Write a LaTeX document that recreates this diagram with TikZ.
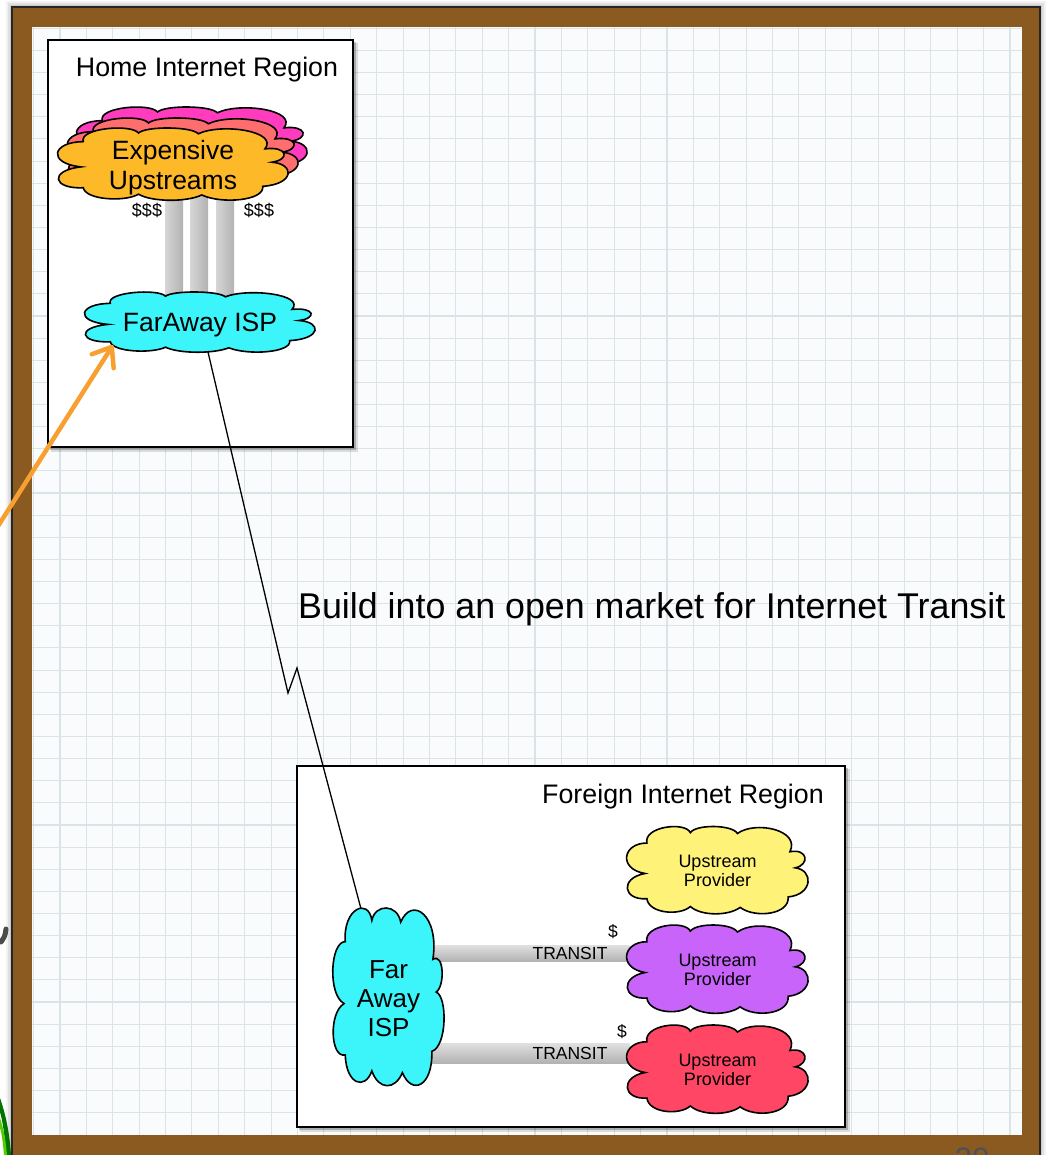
\documentclass[tikz,border=0pt]{standalone}
\usepackage{fontspec}
\setmainfont{Liberation Sans}
\usetikzlibrary{arrows.meta,calc}

\definecolor{framebrown}{RGB}{139,90,32}
\definecolor{paper}{RGB}{249,251,252}
\definecolor{gridblue}{RGB}{218,227,230}
\definecolor{cmagenta}{RGB}{255,60,190}
\definecolor{csalmon}{RGB}{255,110,110}
\definecolor{corange}{RGB}{253,185,40}
\definecolor{ccyan}{RGB}{60,245,250}
\definecolor{cyellow}{RGB}{255,242,120}
\definecolor{cpurple}{RGB}{200,100,250}
\definecolor{cred}{RGB}{255,70,100}
\definecolor{arroworange}{RGB}{247,160,48}
\definecolor{pagenum}{RGB}{75,80,90}

\tikzset{
  % rounded, many-puffed cloud outline in a unit box (y up)
  pics/omnicloud/.style={code={
    \path[pic actions]
      (-0.80,-0.08)
      .. controls (-1.10,0.02) and (-1.05,0.62) .. (-0.78,0.62)
      .. controls (-0.82,1.00) and (-0.36,1.12) .. (-0.30,0.86)
      .. controls (-0.24,1.05) and (0.16,1.05) .. (0.22,0.84)
      .. controls (0.42,1.14) and (0.92,0.92) .. (0.80,0.42)
      .. controls (1.00,0.50) and (1.02,0.12) .. (0.86,0.05)
      .. controls (1.06,0.00) and (1.06,-0.56) .. (0.78,-0.62)
      .. controls (0.80,-1.02) and (0.42,-1.12) .. (0.25,-0.86)
      .. controls (0.12,-1.06) and (-0.18,-1.06) .. (-0.30,-0.84)
      .. controls (-0.42,-1.06) and (-0.76,-1.00) .. (-0.78,-0.66)
      .. controls (-1.05,-0.70) and (-1.08,-0.18) .. (-0.80,-0.08)
      -- cycle;
  }},
  cloudline/.style={draw=black, line width=1.6pt},
  bigtext/.style={font=\fontsize{26.5}{30}\selectfont, align=center, inner sep=0pt},
  smalltext/.style={font=\fontsize{18}{19}\selectfont, align=center, inner sep=0pt},
  titletext/.style={font=\fontsize{26.8}{30}\selectfont, inner sep=0pt},
  regionbox/.style={draw=black, line width=1.2pt, fill=white},
  gridline/.style={draw=gridblue, line width=1.1pt},
  vtube/.style={left color=black!16, middle color=black!4, right color=black!30},
  htube/.style={top color=black!12, middle color=black!4, bottom color=black!30},
  zigline/.style={draw=black, line width=1.3pt, line join=miter},
  pointer/.style={draw=arroworange, line width=4.5pt,
    -{Straight Barb[length=17pt,width=26pt,round]}},
}

\begin{document}
\begin{tikzpicture}[x=1pt,y=-1pt]
\useasboundingbox (0,0) rectangle (1046,1155);
\clip (0,0) rectangle (1046,1155);
\fill[white] (0,0) rectangle (1046,1155);

% soft shadow round the wooden frame
\foreach \d/\o in {6/0.05,4/0.07,2/0.10}
  \fill[black,opacity=\o] (12-\d,7-\d) rectangle (1040+\d,1180);

% wooden frame
\fill[framebrown, draw=black!85, line width=1.6pt] (12,7) rectangle (1040,1180);

% squared paper
\fill[paper] (32,27) rectangle (1022,1135);
\foreach \k in {0,...,37}
  \draw[gridline] ({33.6+26.39*\k},27) -- ({33.6+26.39*\k},1135);
\foreach \k in {0,...,49}
  \draw[gridline] (32,{28.3+22.13*\k}) -- (1022,{28.3+22.13*\k});

% leaf and glyph bits outside the frame
\fill[green!45!black] (0,1098) .. controls (7,1118) and (10,1138) .. (11,1155)
  -- (6,1155) .. controls (5,1138) and (3,1122) .. (0,1112) -- cycle;
\fill[green!60!yellow!80!black] (0,1118) .. controls (4,1130) and (6,1142) .. (7,1155)
  -- (4,1155) .. controls (3,1144) and (2,1134) .. (0,1128) -- cycle;
\draw[black!70, line width=5pt, line cap=round] (6,929) .. controls (5,936) .. (1,942);

% page number, cut by the lower edge
\node[font=\fontsize{31}{31}\selectfont, text=pagenum, inner sep=0pt, anchor=north]
  (pg) at (972,1148) {30};

% region boxes with shadows
\fill[black,opacity=0.12] (51,43) rectangle (358,452);
\fill[black,opacity=0.22] (50,42) rectangle (356,450);
\path[regionbox] (48,40) rectangle (353,447);
\node[titletext] (hometitle) at (207,70) {Home Internet Region};

\fill[black,opacity=0.12] (300,769) rectangle (850,1132);
\fill[black,opacity=0.22] (299,768) rectangle (848,1130);
\path[regionbox] (297,766) rectangle (845,1127);
\node[titletext] (foreigntitle) at (683,797) {Foreign Internet Region};

% cloud labels (placed first so the tubes can refer to them)
\path (173,164) node[bigtext] (exp) {\phantom{X}};
\path (200,322) node[bigtext] (isp1) {\phantom{X}};
\path (388.5,996.5) node[bigtext] (isp2) {\phantom{X}};
\path (717.5,870) node[smalltext] (up1) {\phantom{X}};
\path (717.5,969) node[smalltext] (up2) {\phantom{X}};
\path (717.5,1069) node[smalltext] (up3) {\phantom{X}};

% paid links to the expensive upstreams
\shade[vtube] ($(exp.center)+(-8,26)$) rectangle ($(isp1.center)+(-17,-24)$);
\shade[vtube] ($(exp.center)+(17,26)$) rectangle ($(isp1.center)+(8,-24)$);
\shade[vtube] ($(exp.center)+(43,26)$) rectangle ($(isp1.center)+(34,-24)$);

% home region clouds
\pic[cloudline, fill=cmagenta, xscale=115, yscale=-36] at (192,143) {omnicloud};
\pic[cloudline, fill=csalmon, xscale=115, yscale=-36] at (183,154) {omnicloud};
\pic[cloudline, fill=corange, xscale=115, yscale=-36] at (173,164) {omnicloud};
\pic[cloudline, fill=ccyan, xscale=115, yscale=-30] at (200,322) {omnicloud};

\node[bigtext] (exptext) at ($(exp)+(0,4)$) {Expensive\\Upstreams};
\node[bigtext] (isp1text) at ($(isp1)+(0,3)$) {FarAway ISP};
\node[font=\fontsize{18}{18}\selectfont, inner sep=0pt] (cost1) at (147,210) {\$\$\$};
\node[font=\fontsize{18}{18}\selectfont, inner sep=0pt] (cost2) at (259,210) {\$\$\$};

% long-haul link
\coordinate (zz1) at (288,693);
\coordinate (zz2) at (297,668);
\draw[zigline] ($(isp1.center)+(8,30)$) -- (zz1) -- (zz2) -- ($(isp2.center)+(-26,-82)$);

\node[font=\fontsize{35.8}{40}\selectfont, inner sep=0pt, anchor=west] (headline)
  at (298,609) {Build into an open market for Internet Transit};

% transit links in the foreign region
\shade[htube] ($(isp2.center)+(40,-51.5)$) rectangle ($(up2.center)+(-88,-8)$);
\shade[htube] ($(isp2.center)+(40,46.5)$) rectangle ($(up3.center)+(-88,-6)$);

% foreign region clouds
\pic[cloudline, fill=ccyan, xscale=55.5, yscale=-88.5] at (388.5,996.5) {omnicloud};
\pic[cloudline, fill=cyellow, xscale=90.5, yscale=-43.5] at (717.5,870) {omnicloud};
\pic[cloudline, fill=cpurple, xscale=90.5, yscale=-44] at (717.5,969) {omnicloud};
\pic[cloudline, fill=cred, xscale=90.5, yscale=-44] at (717.5,1069) {omnicloud};

\node[bigtext, font=\fontsize{26}{29}\selectfont] (isp2text) at ($(isp2)+(0,2)$) {Far\\Away\\ISP};
\node[smalltext] (up1text) at ($(up1)+(0,1)$) {Upstream\\Provider};
\node[smalltext] (up2text) at ($(up2)+(0,1)$) {Upstream\\Provider};
\node[smalltext] (up3text) at ($(up3)+(0,1)$) {Upstream\\Provider};

\node[font=\fontsize{17.5}{18}\selectfont, inner sep=0pt] (tr1) at (570,953) {TRANSIT};
\node[font=\fontsize{17.5}{18}\selectfont, inner sep=0pt] (tr2) at (570,1053) {TRANSIT};
\node[font=\fontsize{17.5}{18}\selectfont, inner sep=0pt] (d1) at (613,932) {\$};
\node[font=\fontsize{17.5}{18}\selectfont, inner sep=0pt] (d2) at (622,1032) {\$};

% pointer coming in from the left
\coordinate (pointertail) at (-8,535.6);
\draw[pointer] (pointertail) -- ($(isp1.center)+(-87,23)$);
\end{tikzpicture}
\end{document}
